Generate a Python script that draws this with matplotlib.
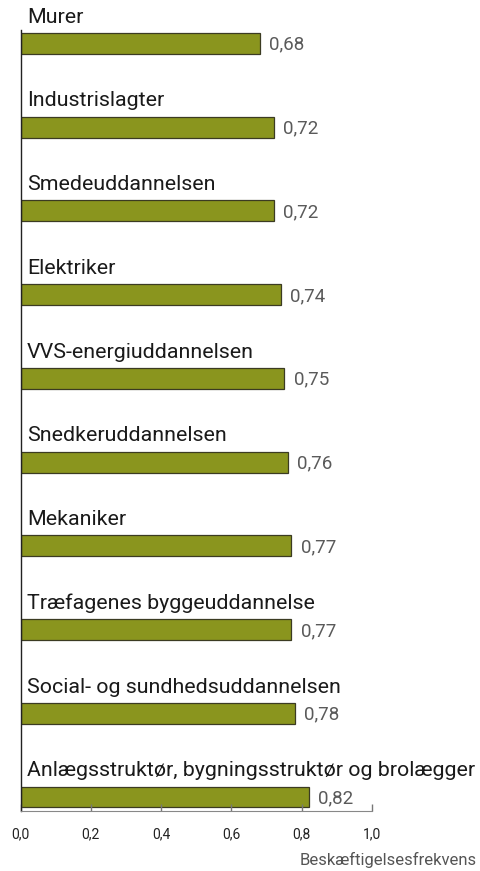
import matplotlib.pyplot as plt

plt.rcParams['font.family'] = ['Roboto', 'DejaVu Sans']

uddannelser = ['Murer', 'Industrislagter', 'Smedeuddannelsen', 'Elektriker',
               'VVS-energiuddannelsen', 'Snedkeruddannelsen', 'Mekaniker',
               'Træfagenes byggeuddannelse', 'Social- og sundhedsuddannelsen',
               'Anlægsstruktør, bygningsstruktør og brolægger']
frekvens = [0.68, 0.72, 0.72, 0.74, 0.75, 0.76, 0.77, 0.77, 0.78, 0.82]
xticks = [0.0, 0.2, 0.4, 0.6, 0.8, 1.0]

fig = plt.figure(figsize=(4.81, 8.71), dpi=100)
ax = fig.add_axes([20.5 / 481, 1 - 811 / 871, 351.5 / 481, 781 / 871])

pos = range(len(uddannelser))
bh = 0.25
ax.barh(pos, frekvens, height=bh, color='#8a951e', edgecolor='#3b3b22', linewidth=0.9)

for i, (navn, v) in enumerate(zip(uddannelser, frekvens)):
    ax.annotate(navn, (0.018, i - bh / 2), xytext=(0, 4.5), textcoords='offset points',
                ha='left', va='bottom', fontsize=15.4, color='#1a1a1a')
    ax.annotate(f'{v:.2f}'.replace('.', ','), (v, i), xytext=(7, -1),
                textcoords='offset points', ha='left', va='center',
                fontsize=13.5, color='#5a5a5a')

ax.set_xlim(0, 1.0)
ax.set_ylim(len(uddannelser) - 1 + 0.167, -0.16)
ax.set_yticks([])
ax.set_xticks(xticks)
ax.set_xticklabels([f'{t:.1f}'.replace('.', ',') for t in xticks])
ax.tick_params(axis='x', direction='in', length=5, color='#777777', width=1,
               labelsize=10, labelcolor='#222222', pad=12)

for s in ['top', 'right']:
    ax.spines[s].set_visible(False)
ax.spines['bottom'].set_color('#888888')
ax.spines['left'].set_color('#222222')
ax.spines['left'].set_linewidth(1)

fig.text(477 / 481, 1 - 860 / 871, 'Beskæftigelsesfrekvens', ha='right', va='center',
         fontsize=12, color='#555555')

fig.savefig('out.png', dpi=100)
